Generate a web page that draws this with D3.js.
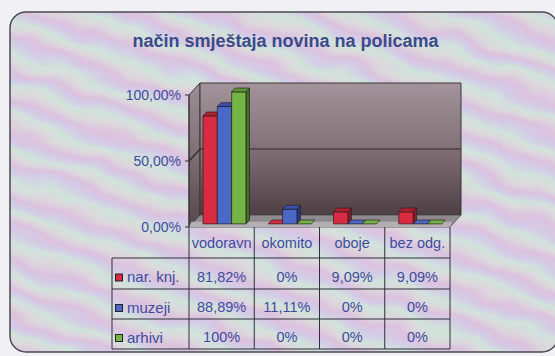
<!DOCTYPE html>
<html><head><meta charset="utf-8">
<script src="https://cdn.jsdelivr.net/npm/d3@7"></script>
<style>html,body{margin:0;padding:0;background:#f1f0f4;}svg{display:block;}</style>
</head><body><svg id="chart" width="555" height="356"></svg>
<script>
// Data
const categories = ["vodoravn", "okomito", "oboje", "bez odg."];
const seriesNames = ["nar. knj.", "muzeji", "arhivi"];
const narKnj = [81.82, 0, 9.09, 9.09];
const muzeji = [88.89, 11.11, 0, 0];
const arhivi = [100, 0, 0, 0];
const yTicks = [0, 50, 100];
const titleText = "način smještaja novina na policama";

const series = [narKnj, muzeji, arhivi];
const palette = [
  {front: "#d92c42", side: "#8c1a2a", top: "#b4202f"},
  {front: "#4a68c8", side: "#27398a", top: "#3752ae"},
  {front: "#74b444", side: "#3c7422", top: "#5b9636"}
];
const textBlue = "#3f4c9c";
const font = "'Liberation Sans', Arial, sans-serif";

const svg = d3.select("#chart");
const defs = svg.append("defs");

// Pastel iridescent card background: soft repeating bands, warped by noise
const bg = defs.append("linearGradient").attr("id", "bgStripes")
  .attr("gradientUnits", "userSpaceOnUse")
  .attr("x1", 0).attr("y1", 0).attr("x2", -10).attr("y2", 28)
  .attr("spreadMethod", "repeat");
[["0%", "#dcc2df"], ["25%", "#d3cde6"], ["50%", "#d1e3db"], ["75%", "#dcd8dc"], ["100%", "#dcc2df"]]
  .forEach(([o, c]) => bg.append("stop").attr("offset", o).attr("stop-color", c));
const warp = defs.append("filter").attr("id", "warp")
  .attr("filterUnits", "userSpaceOnUse").attr("x", -20).attr("y", -20).attr("width", 600).attr("height", 400);
warp.append("feTurbulence").attr("type", "fractalNoise").attr("baseFrequency", "0.018 0.03")
  .attr("numOctaves", 2).attr("seed", 7).attr("result", "noise");
warp.append("feDisplacementMap").attr("in", "SourceGraphic").attr("in2", "noise")
  .attr("scale", 22).attr("xChannelSelector", "R").attr("yChannelSelector", "G");
defs.append("clipPath").attr("id", "cardClip").append("rect")
  .attr("x", 10).attr("y", 12).attr("width", 548).attr("height", 340).attr("rx", 16).attr("ry", 16);

const wallGrad = defs.append("linearGradient").attr("id", "wallGrad")
  .attr("x1", 0).attr("y1", 0).attr("x2", 0).attr("y2", 1);
[["0%", "#a2949a"], ["45%", "#85757b"], ["100%", "#4d3f44"]]
  .forEach(([o, c]) => wallGrad.append("stop").attr("offset", o).attr("stop-color", c));
const sideGrad = defs.append("linearGradient").attr("id", "sideGrad")
  .attr("x1", 0).attr("y1", 0).attr("x2", 0).attr("y2", 1);
[["0%", "#9d8f95"], ["50%", "#7e6f75"], ["100%", "#54464b"]]
  .forEach(([o, c]) => sideGrad.append("stop").attr("offset", o).attr("stop-color", c));

// Card
svg.append("g").attr("clip-path", "url(#cardClip)")
  .append("rect").attr("x", -10).attr("y", -10).attr("width", 590).attr("height", 380)
  .attr("fill", "url(#bgStripes)").attr("filter", "url(#warp)");
svg.append("rect").attr("x", 10).attr("y", 12).attr("width", 548).attr("height", 340)
  .attr("rx", 16).attr("ry", 16)
  .attr("fill", "none").attr("stroke", "#4a4a50").attr("stroke-width", 1.5);

// Title
svg.append("text").attr("x", 285.5).attr("y", 47).attr("text-anchor", "middle")
  .attr("font-family", font).attr("font-weight", "bold").attr("font-size", 18)
  .attr("fill", "#3b4a8a").text(titleText);

// Scales
const x = d3.scaleBand().domain(categories).range([189, 450]);
const y = d3.scaleLinear().domain([0, 100]).range([227, 95]);
const inner = d3.scaleBand().domain(d3.range(series.length))
  .range([0, x.bandwidth()]).paddingInner(0).paddingOuter(0.78);

// Oblique projection for depth z in [0,1]
const DX = 11, DY = 12;
const P = (px, py, z) => [px + z * DX, py - z * DY];
const poly = pts => pts.map(p => p.join(",")).join(" ");

const x0 = x.range()[0], x1 = x.range()[1];
const g = svg.append("g");

// Side wall
g.append("polygon")
  .attr("points", poly([P(x0, y(0), 0), P(x0, y(0), 1), P(x0, y(100), 1), P(x0, y(100), 0)]))
  .attr("fill", "url(#sideGrad)").attr("stroke", "#3c3438").attr("stroke-width", 1);
// Back wall
g.append("polygon")
  .attr("points", poly([P(x0, y(0), 1), P(x1, y(0), 1), P(x1, y(100), 1), P(x0, y(100), 1)]))
  .attr("fill", "url(#wallGrad)").attr("stroke", "#3c3438").attr("stroke-width", 1);
// Gridlines on walls
yTicks.filter(t => t > 0 && t < 100).forEach(t => {
  g.append("polyline")
    .attr("points", poly([P(x0, y(t), 0), P(x0, y(t), 1), P(x1, y(t), 1)]))
    .attr("fill", "none").attr("stroke", "#2e2628").attr("stroke-width", 1.2);
});
// Floor
g.append("polygon")
  .attr("points", poly([P(x0, y(0), 0), P(x1, y(0), 0), P(x1, y(0), 1), P(x0, y(0), 1)]))
  .attr("fill", "#8e8a8e").attr("stroke", "#4a4448").attr("stroke-width", 0.8);
g.append("polygon")
  .attr("points", poly([P(x0, y(0) - 2.5, 0.22), P(x1, y(0) - 2.5, 0.22), P(x1, y(0), 0), P(x0, y(0), 0)]))
  .attr("fill", "#b3afb3");

// Bars
const zf = 0.26, zb = 0.58;
categories.forEach((cat, ci) => {
  series.forEach((vals, si) => {
    const v = vals[ci];
    const bx = x(cat) + inner(si), bw = inner.bandwidth();
    const yt = y(v), yb = y(0);
    const c = palette[si];
    const bar = g.append("g").attr("stroke", "#2a1e22").attr("stroke-width", 0.7).attr("stroke-linejoin", "round");
    if (v > 0) {
      bar.append("polygon").attr("fill", c.side)
        .attr("points", poly([P(bx + bw, yb, zf), P(bx + bw, yb, zb), P(bx + bw, yt, zb), P(bx + bw, yt, zf)]));
      bar.append("polygon").attr("fill", c.front)
        .attr("points", poly([P(bx, yb, zf), P(bx + bw, yb, zf), P(bx + bw, yt, zf), P(bx, yt, zf)]));
    }
    bar.append("polygon").attr("fill", v > 0 ? c.top : c.front)
      .attr("points", poly([P(bx, yt, zf), P(bx + bw, yt, zf), P(bx + bw, yt, zb), P(bx, yt, zb)]));
  });
});

// Value axis
g.append("line").attr("x1", x0).attr("x2", x0).attr("y1", y(100)).attr("y2", y(0))
  .attr("stroke", "#333").attr("stroke-width", 1);
yTicks.forEach(t => {
  g.append("line").attr("x1", x0 - 4).attr("x2", x0).attr("y1", y(t)).attr("y2", y(t))
    .attr("stroke", "#333").attr("stroke-width", 1);
  g.append("text").attr("x", x0 - 8).attr("y", y(t) + 5).attr("text-anchor", "end")
    .attr("font-family", font).attr("font-size", 14).attr("fill", textBlue)
    .text(t.toFixed(2).replace(".", ",") + "%");
});

// Data table
const fmt = v => (Number.isInteger(v) ? String(v) : v.toFixed(2).replace(".", ",")) + "%";
const tableLeft = 112, headerTop = y(0), rowTops = [258, 289, 319], rowBottom = 349;
const t = svg.append("g").attr("stroke", "#2e2e3a").attr("stroke-width", 1);
[258, 289, 319, 349].forEach(yy => t.append("line").attr("x1", tableLeft).attr("x2", x1).attr("y1", yy).attr("y2", yy));
t.append("line").attr("x1", tableLeft).attr("x2", tableLeft).attr("y1", 258).attr("y2", rowBottom);
categories.forEach(cat => t.append("line").attr("x1", x(cat)).attr("x2", x(cat)).attr("y1", headerTop).attr("y2", rowBottom));
t.append("line").attr("x1", x1).attr("x2", x1).attr("y1", headerTop).attr("y2", rowBottom);

const tt = svg.append("g").attr("font-family", font).attr("font-size", 14.5).attr("fill", textBlue);
categories.forEach(cat => tt.append("text").attr("x", x(cat) + x.bandwidth() / 2).attr("y", 248)
  .attr("text-anchor", "middle").text(cat));
series.forEach((vals, si) => {
  const cy = (rowTops[si] + (si < 2 ? rowTops[si + 1] : rowBottom)) / 2;
  svg.append("rect").attr("x", 115.5).attr("y", cy + 0.5).attr("width", 7).attr("height", 7)
    .attr("fill", palette[si].front).attr("stroke", "#222").attr("stroke-width", 1);
  tt.append("text").attr("x", 127).attr("y", cy + 8.5).attr("font-size", 15).text(seriesNames[si]);
  vals.forEach((v, ci) => tt.append("text").attr("x", x(categories[ci]) + x.bandwidth() / 2)
    .attr("y", cy + 8).attr("text-anchor", "middle").text(fmt(v)));
});
</script></body></html>
